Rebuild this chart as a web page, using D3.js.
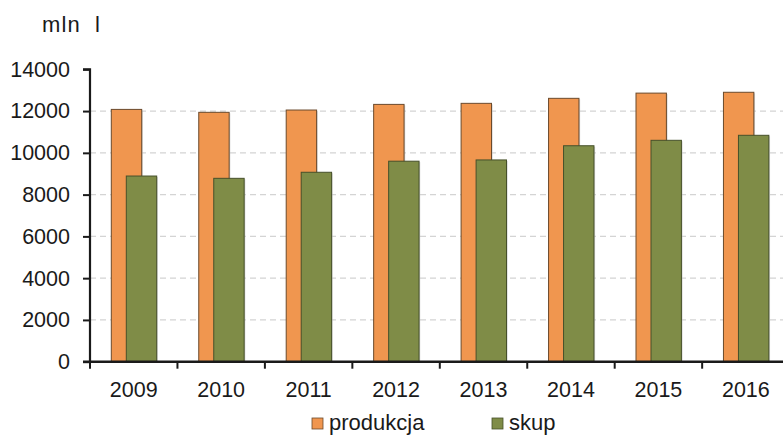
<!DOCTYPE html>
<html><head><meta charset="utf-8">
<script src="https://cdn.jsdelivr.net/npm/d3@7"></script>
<style>body{margin:0;background:#fff}svg{display:block}text{font-family:"Liberation Sans",Arial,sans-serif;fill:#1a1a1a}</style>
</head><body><svg id="c" width="783" height="435"></svg>
<script>
const years = ["2009","2010","2011","2012","2013","2014","2015","2016"];
const produkcja = [12080,11940,12050,12320,12370,12610,12860,12900];
const skup = [8890,8780,9070,9600,9660,10340,10600,10840];
const yTicks = [0,2000,4000,6000,8000,10000,12000,14000];
const seriesNames = ["produkcja","skup"];
const colors = ["#F0964F","#7F8C47"];
const strokes = ["#6b4a2c","#46502a"];

const svg = d3.select("#c");
const x0 = 90, x1 = 789.6, yTop = 69.3, yBot = 361.7;
const x = d3.scaleBand().domain(years).range([x0,x1]).paddingInner(0).paddingOuter(0);
const y = d3.scaleLinear().domain([0,14000]).range([yBot,yTop]);
const FS = 21.5;

// gridlines
svg.append("g").selectAll("line").data(yTicks.filter(d=>d>0 && d<14000)).join("line")
  .attr("x1",x0).attr("x2",783).attr("y1",d=>y(d)).attr("y2",d=>y(d))
  .attr("stroke","#d4d4d4").attr("stroke-width",1.2).attr("stroke-dasharray","6,4");

const bw = 30.4;
const offs = [21.3, 36.3];
const data = [produkcja, skup];
data.forEach((arr,si)=>{
  const g = svg.append("g");
  g.selectAll("rect.s").data(arr).join("rect").attr("class","s")
    .attr("x",(d,i)=>x(years[i])+offs[si]+1.2).attr("y",d=>y(d)+1)
    .attr("width",bw).attr("height",d=>yBot-y(d)-1)
    .attr("fill","#bdbdbd").attr("opacity",0.6);
  g.selectAll("rect.b").data(arr).join("rect").attr("class","b")
    .attr("x",(d,i)=>x(years[i])+offs[si]).attr("y",d=>y(d))
    .attr("width",bw).attr("height",d=>yBot-y(d))
    .attr("fill",colors[si]).attr("stroke",strokes[si]).attr("stroke-width",1);
});

// y axis
const ya = svg.append("g").attr("transform",`translate(${x0},0)`)
  .call(d3.axisLeft(y).tickValues(yTicks).tickSize(7).tickPadding(13).tickFormat(d3.format("d")));
ya.attr("font-size",null).attr("font-family",null);
ya.select(".domain").attr("stroke","#1a1a1a").attr("stroke-width",2.2).attr("d",`M-7,${yTop}H0V${yBot}`);
ya.selectAll(".tick line").attr("stroke","#1a1a1a").attr("stroke-width",2);
ya.selectAll(".tick text").style("font-size",FS+"px").attr("fill","#1a1a1a");

// x axis
const xa = svg.append("g").attr("transform",`translate(0,${yBot})`)
  .call(d3.axisBottom(x).tickSize(0).tickPadding(20));
xa.attr("font-size",null).attr("font-family",null);
xa.select(".domain").remove();
xa.selectAll(".tick text").style("font-size",FS+"px").attr("fill","#1a1a1a");
svg.append("line").attr("x1",x0-7).attr("x2",783).attr("y1",yBot).attr("y2",yBot).attr("stroke","#1a1a1a").attr("stroke-width",2.6);
svg.append("g").selectAll("line").data(years).join("line")
  .attr("x1",d=>x(d)).attr("x2",d=>x(d)).attr("y1",yBot).attr("y2",yBot+7)
  .attr("stroke","#1a1a1a").attr("stroke-width",2);

// unit label
const ut = svg.append("text").attr("x",42).attr("y",32).style("font-size","22px");
ut.append("tspan").text("mln").attr("letter-spacing",1.2);
ut.append("tspan").attr("x",95).text("l");

// legend
const legX = [312, 492];
seriesNames.forEach((n,i)=>{
  svg.append("rect").attr("x",legX[i]).attr("y",418).attr("width",11).attr("height",11)
    .attr("fill",colors[i]).attr("stroke",strokes[i]).attr("stroke-width",0.8);
  svg.append("text").attr("x",legX[i]+17).attr("y",429.5).style("font-size","22px").text(n);
});
</script></body></html>
